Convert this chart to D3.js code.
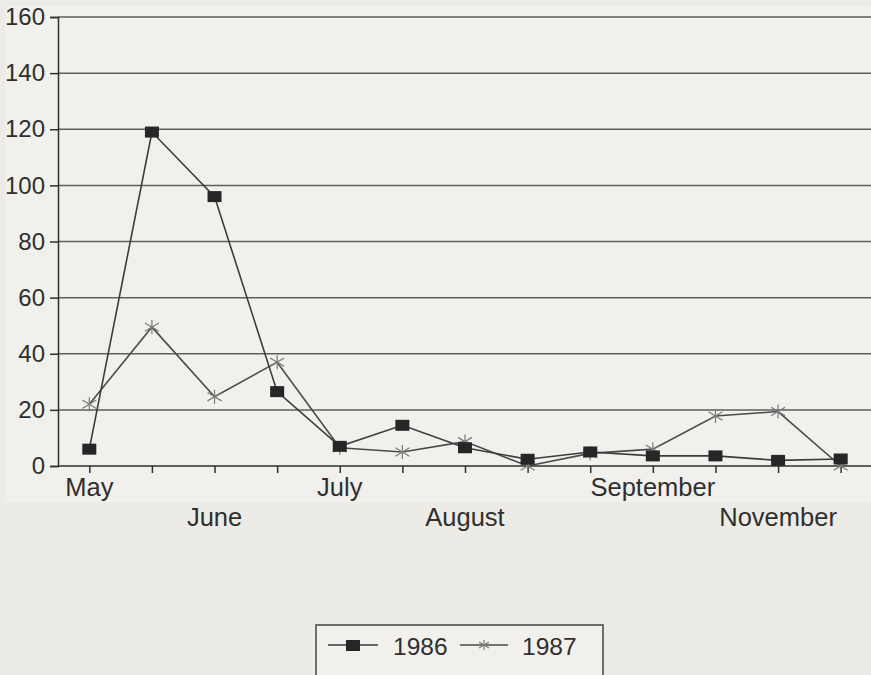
<!DOCTYPE html>
<html>
<head>
<meta charset="utf-8">
<script src="https://cdn.jsdelivr.net/npm/d3@7"></script>
<style>
  body { margin: 0; background: #ecebe6; }
  svg { display: block; font-family: "Liberation Sans", Arial, sans-serif; }
</style>
</head>
<body>
<svg class="chart"></svg>
<script>
// data
var categories = ["p0", "p1", "p2", "p3", "p4", "p5", "p6", "p7", "p8", "p9", "p10", "p11", "p12"];
var monthLabels = ["May", "", "June", "", "July", "", "August", "", "", "September", "", "November", ""];
var values1986 = [6, 119, 96, 26.5, 7, 14.5, 6.5, 2.4, 5, 3.6, 3.6, 2, 2.5];
var values1987 = [22, 49.5, 24.7, 37, 6.5, 5, 8.7, 0, 4.5, 6, 17.8, 19.4, 0];
var yTicks = [0, 20, 40, 60, 80, 100, 120, 140, 160];
var seriesNames = ["1986", "1987"];

function show() {
    'use strict';

    var W = 871, H = 675;
    var margin = { top: 17, left: 58, right: -1 },
        x0 = margin.left, x1 = W - margin.right,
        yTop = margin.top, yBottom = 466;

    var svg = d3.select(".chart").attr("width", W).attr("height", H);
    var ink = "#2f2f2f";

    // lighter panel behind the plot
    svg.append("rect").attr("x", 5).attr("y", 6).attr("width", W - 5).attr("height", 496)
        .attr("fill", "#f1f0ec");

    var x = d3.scalePoint().domain(categories).range([x0, x1]).padding(0.5);
    var y = d3.scaleLinear().domain([0, 160]).range([yBottom, yTop]);

    // gridlines
    svg.append("g").selectAll("line").data(yTicks.slice(1)).enter().append("line")
        .attr("x1", x0).attr("x2", W).attr("y1", y).attr("y2", y)
        .attr("stroke", "#5e5e5e").attr("stroke-width", 1.5);

    // y axis
    var yAxis = svg.append("g").attr("transform", "translate(" + x0 + ",0)")
        .call(d3.axisLeft(y).tickValues(yTicks).tickSize(8).tickPadding(5));
    yAxis.select(".domain").attr("stroke", ink).attr("stroke-width", 1.5);
    yAxis.selectAll(".tick line").attr("stroke", ink).attr("stroke-width", 1.5);
    yAxis.selectAll("text").attr("font-size", 24).attr("fill", ink)
        .attr("font-family", "Liberation Sans, Arial, sans-serif");

    // x axis
    var xAxis = svg.append("g").attr("transform", "translate(0," + yBottom + ")")
        .call(d3.axisBottom(x).tickSize(7).tickSizeOuter(0).tickFormat(""));
    xAxis.select(".domain").attr("stroke", ink).attr("stroke-width", 1.5)
        .attr("d", "M" + x0 + ",0H" + W);
    xAxis.selectAll(".tick line").attr("stroke", ink).attr("stroke-width", 1.5);

    // staggered month labels
    var row = 0;
    categories.forEach(function(c, i) {
        if (!monthLabels[i]) return;
        svg.append("text")
            .attr("x", x(c)).attr("y", row % 2 === 0 ? 496 : 526)
            .attr("text-anchor", "middle").attr("font-size", 25.5).attr("fill", ink)
            .text(monthLabels[i]);
        row++;
    });

    var line = d3.line().x(function(d, i) { return x(categories[i]); }).y(function(d) { return y(d); });

    // 1987 series
    svg.append("path").datum(values1987).attr("d", line)
        .attr("fill", "none").attr("stroke", "#4a4a4a").attr("stroke-width", 1.6);
    function star(g, cx, cy, r) {
        var a = [[-r, -r * 0.6, r, r * 0.6], [-r, r * 0.6, r, -r * 0.6], [0, -r, 0, r]];
        a.forEach(function(s) {
            g.append("line").attr("x1", cx + s[0]).attr("y1", cy + s[1])
                .attr("x2", cx + s[2]).attr("y2", cy + s[3])
                .attr("stroke", "#7a7a7a").attr("stroke-width", 1.2);
        });
    }
    var stars = svg.append("g");
    values1987.forEach(function(v, i) { star(stars, x(categories[i]), y(v), 7); });

    // 1986 series
    svg.append("path").datum(values1986).attr("d", line)
        .attr("fill", "none").attr("stroke", "#3c3c3c").attr("stroke-width", 1.6);
    svg.append("g").selectAll("rect").data(values1986).enter().append("rect")
        .attr("x", function(d, i) { return x(categories[i]) - 7; })
        .attr("y", function(d) { return y(d) - 5.5; })
        .attr("width", 14).attr("height", 11).attr("fill", "#262626");

    // legend
    var lg = svg.append("g");
    lg.append("rect").attr("x", 316).attr("y", 625).attr("width", 287).attr("height", 60)
        .attr("fill", "#f1f0ec").attr("stroke", "#444").attr("stroke-width", 1.5);
    lg.append("line").attr("x1", 328).attr("x2", 378).attr("y1", 645).attr("y2", 645)
        .attr("stroke", "#3c3c3c").attr("stroke-width", 1.6);
    lg.append("rect").attr("x", 346).attr("y", 640).attr("width", 14).attr("height", 11).attr("fill", "#262626");
    lg.append("text").attr("x", 393).attr("y", 655).attr("font-size", 24.5).attr("fill", ink).text(seriesNames[0]);
    lg.append("line").attr("x1", 460).attr("x2", 508).attr("y1", 645).attr("y2", 645)
        .attr("stroke", "#4a4a4a").attr("stroke-width", 1.6);
    star(lg, 484, 645, 5);
    lg.append("text").attr("x", 522).attr("y", 655).attr("font-size", 24.5).attr("fill", ink).text(seriesNames[1]);
}
show();
</script>
</body>
</html>
